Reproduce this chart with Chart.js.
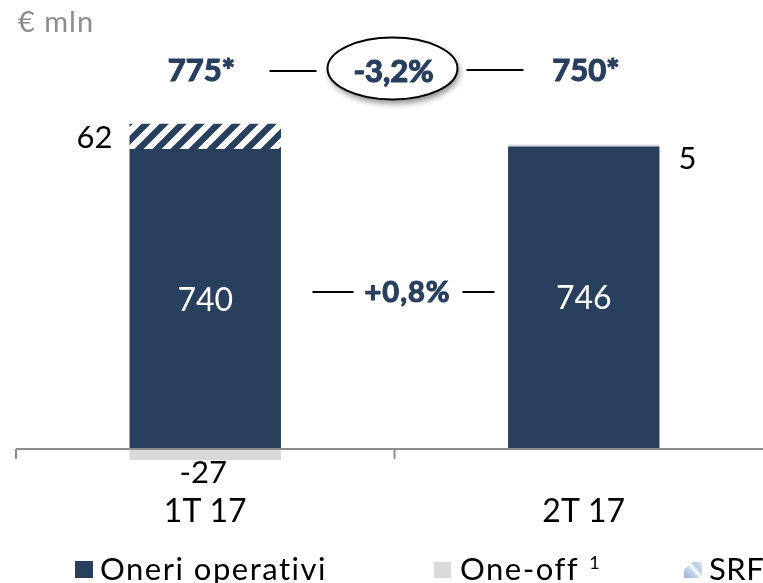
<!DOCTYPE html>
<html>
<head>
<meta charset="utf-8">
<script src="https://cdn.jsdelivr.net/npm/chart.js@4.4.0/dist/chart.umd.min.js"></script>
<style>
  html, body { margin: 0; padding: 0; background: #fff; overflow: hidden; }
  #wrap { position: relative; width: 780px; height: 583px; }
</style>
</head>
<body>
<div id="wrap"><canvas id="chart" width="780" height="583"></canvas></div>
<script>
// data
const categories = ['1T 17', '2T 17'];
const oneriOperativi = [740, 746];
const oneOff = [-27, 5];
const srf = [62, 0];
const totalLabels = ['775*', '750*'];
const totalChange = '-3,2%';
const oneriChange = '+0,8%';
const unitLabel = '€ mln';
const seriesNames = ['Oneri operativi', 'One-off', 'SRF'];

const NAVY = '#283f5e';
const GREY = '#d9d9d9';
const FONT = 'Lato, "DejaVu Sans", sans-serif';

// hatch for SRF
function makeHatch(color) {
  const c = document.createElement('canvas');
  c.width = 18; c.height = 18;
  const g = c.getContext('2d');
  g.fillStyle = '#fff';
  g.fillRect(0, 0, 18, 18);
  g.strokeStyle = color;
  g.lineWidth = 6.5;
  g.beginPath();
  g.moveTo(-9, 9); g.lineTo(9, -9);
  g.moveTo(0, 18); g.lineTo(18, 0);
  g.moveTo(9, 27); g.lineTo(27, 9);
  g.stroke();
  return g.createPattern(c, 'repeat');
}
const ctx0 = document.getElementById('chart').getContext('2d');
const hatch = makeHatch(NAVY);

function digitText(ctx, txt, x, cy, size, align, heavy) {
  // place text so that digits are centred on cy
  ctx.textAlign = align || 'center';
  ctx.textBaseline = 'alphabetic';
  ctx.fillText(txt, x, cy + size * 0.36);
  if (heavy) {
    ctx.strokeStyle = ctx.fillStyle;
    ctx.lineWidth = heavy;
    ctx.strokeText(txt, x, cy + size * 0.36);
  }
}

const overlay = {
  id: 'overlay',
  afterDatasetsDraw(chart) {
    const ctx = chart.ctx;
    const xs = chart.scales.x, ys = chart.scales.y;
    const area = chart.chartArea;
    const p0 = xs.getPixelForValue(0), p1 = xs.getPixelForValue(1);
    const step = p1 - p0;
    const mid = (p0 + p1) / 2;
    const y0 = ys.getPixelForValue(0);
    ctx.save();

    // axis line + category ticks
    ctx.strokeStyle = '#8c8c8c';
    ctx.lineWidth = 2;
    ctx.beginPath();
    ctx.moveTo(area.left, y0); ctx.lineTo(area.right, y0);
    [p0 - step / 2, mid, p1 + step / 2].forEach(t => {
      ctx.moveTo(t, y0); ctx.lineTo(t, y0 + 10);
    });
    ctx.stroke();

    // values inside / beside bars
    const oneri = chart.getDatasetMeta(0).data;
    const off = chart.getDatasetMeta(1).data;
    const hat = chart.getDatasetMeta(2).data;
    ctx.fillStyle = '#fff';
    ctx.font = '32px ' + FONT;
    oneri.forEach((el, i) => {
      digitText(ctx, String(oneriOperativi[i]), el.x, (el.y + el.base) / 2, 32);
    });
    ctx.fillStyle = '#000';
    ctx.font = '31px ' + FONT;
    hat.forEach((el, i) => {
      if (!srf[i]) return;
      digitText(ctx, String(srf[i]), el.x - el.width / 2 - 17, (el.y + el.base) / 2 + 1, 31, 'right');
    });
    off.forEach((el, i) => {
      if (oneOff[i] < 0) {
        digitText(ctx, String(oneOff[i]), el.x - 2, Math.max(el.y, el.base) + 13, 29);
      } else if (oneOff[i] > 0) {
        digitText(ctx, String(oneOff[i]), el.x + el.width / 2 + 19, el.y + 13, 31, 'left');
      }
    });

    // totals with change bubble
    ctx.fillStyle = NAVY;
    ctx.font = 'bold 31px ' + FONT;
    digitText(ctx, totalLabels[0], p0 - 4, 70, 31, 'center', 1.2);
    digitText(ctx, totalLabels[1], p1 + 2, 70, 31, 'center', 1.2);
    ctx.strokeStyle = '#000';
    ctx.lineWidth = 2;
    ctx.beginPath();
    ctx.moveTo(mid - 125, 71); ctx.lineTo(mid - 78, 71);
    ctx.moveTo(mid + 72, 70); ctx.lineTo(mid + 129, 70);
    ctx.stroke();

    ctx.save();
    ctx.shadowColor = 'rgba(0,0,0,0.45)';
    ctx.shadowBlur = 6;
    ctx.shadowOffsetX = 2;
    ctx.shadowOffsetY = 4;
    ctx.fillStyle = '#fff';
    ctx.beginPath();
    ctx.ellipse(mid - 2, 68.5, 65, 31, 0, 0, Math.PI * 2);
    ctx.fill();
    ctx.restore();
    ctx.strokeStyle = '#000';
    ctx.lineWidth = 2;
    ctx.beginPath();
    ctx.ellipse(mid - 2, 68.5, 65, 31, 0, 0, Math.PI * 2);
    ctx.stroke();
    ctx.fillStyle = NAVY;
    ctx.font = 'bold 31px ' + FONT;
    digitText(ctx, totalChange, mid - 1, 71, 31, 'center', 1.2);

    // change of operating costs
    ctx.strokeStyle = '#000';
    ctx.lineWidth = 2;
    ctx.beginPath();
    ctx.moveTo(mid - 82, 292); ctx.lineTo(mid - 41, 292);
    ctx.moveTo(mid + 68, 292); ctx.lineTo(mid + 100, 292);
    ctx.stroke();
    ctx.font = 'bold 29px ' + FONT;
    ctx.letterSpacing = '1px';
    digitText(ctx, oneriChange, mid + 13, 292, 29, 'center', 1.1);

    // unit
    ctx.fillStyle = '#8c8c8c';
    ctx.font = '29px ' + FONT;
    ctx.letterSpacing = '1px';
    ctx.textAlign = 'left';
    ctx.fillText(unitLabel, 18, 32);

    // legend
    const ly = 580;
    ctx.font = '31px ' + FONT;
    ctx.letterSpacing = '1.5px';
    ctx.fillStyle = NAVY;
    ctx.fillRect(75, 561, 18, 17);
    ctx.fillStyle = '#000';
    ctx.fillText(seriesNames[0], 100, ly);
    ctx.fillStyle = GREY;
    ctx.fillRect(434, 562, 17, 16);
    ctx.fillStyle = '#000';
    ctx.fillText(seriesNames[1], 460, ly);
    const w1 = ctx.measureText(seriesNames[1]).width;
    ctx.font = '18px ' + FONT;
    ctx.letterSpacing = '0px';
    ctx.fillText('1', 460 + w1 + 10, 569);
    // SRF legend swatch
    const grad = ctx.createLinearGradient(684, 578, 702, 562);
    grad.addColorStop(0, '#8fb0d8');
    grad.addColorStop(0.45, '#c9d9ee');
    grad.addColorStop(0.55, '#ffffff');
    grad.addColorStop(0.7, '#b7cbe6');
    grad.addColorStop(1, '#dfe8f4');
    ctx.fillStyle = grad;
    ctx.beginPath();
    ctx.moveTo(684, 578); ctx.lineTo(684, 570); ctx.lineTo(692, 562);
    ctx.lineTo(702, 562); ctx.lineTo(702, 578); ctx.closePath();
    ctx.fill();
    ctx.fillStyle = '#000';
    ctx.font = '31px ' + FONT;
    ctx.letterSpacing = '0.5px';
    ctx.fillText(seriesNames[2], 709, ly);
    ctx.restore();
  }
};

const bar = { categoryPercentage: 0.4, barPercentage: 1, borderWidth: 0 };

new Chart(ctx0, {
  type: 'bar',
  data: {
    labels: categories,
    datasets: [
      Object.assign({ label: seriesNames[0], data: oneriOperativi, backgroundColor: NAVY }, bar),
      Object.assign({ label: seriesNames[1], data: oneOff, backgroundColor: GREY }, bar),
      Object.assign({ label: seriesNames[2], data: srf, backgroundColor: hatch }, bar)
    ]
  },
  options: {
    responsive: false,
    animation: false,
    layout: { padding: { left: 16, right: 7, top: 84, bottom: 47 } },
    plugins: {
      legend: { display: false },
      tooltip: { enabled: false }
    },
    scales: {
      x: {
        stacked: true,
        offset: true,
        grid: { display: false, drawTicks: false },
        border: { display: false },
        ticks: { color: '#000', font: { family: FONT, size: 32 }, padding: 5 }
      },
      y: { stacked: true, display: false, min: -95, max: 900 }
    }
  },
  plugins: [overlay]
});
</script>
</body>
</html>
